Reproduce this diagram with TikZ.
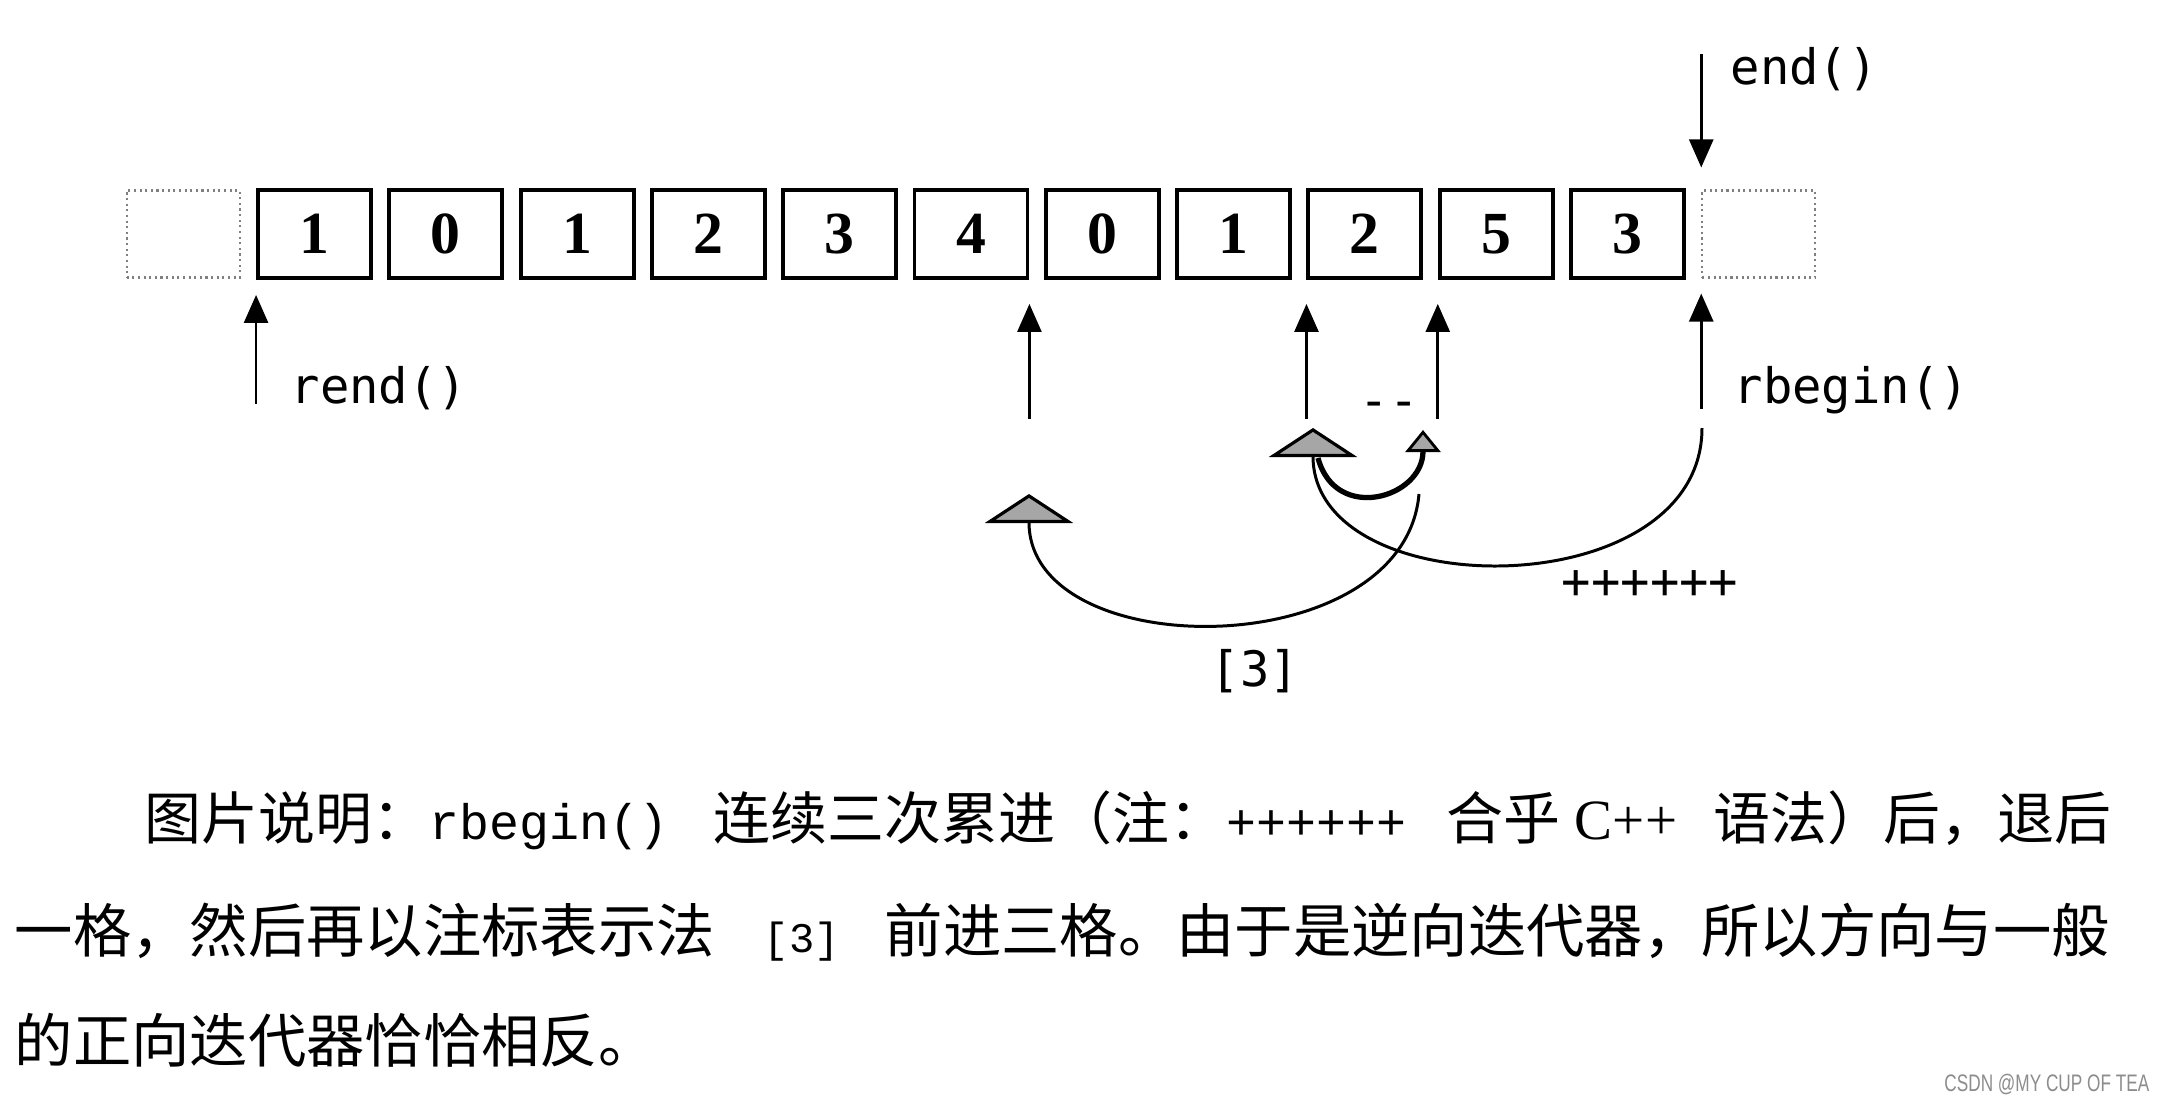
\documentclass[tikz,border=0pt]{standalone}
\usepackage{fontspec}
\setmainfont{Liberation Serif}
\newfontfamily\cjk{Noto Sans CJK SC}
\newfontfamily\lblfont[Ligatures=TeXOff]{DejaVu Sans Mono}
\newfontfamily\codefont[Ligatures=TeXOff]{Liberation Mono}
\newfontfamily\wmfont[FakeStretch=0.72]{Liberation Sans}
\usetikzlibrary{arrows.meta,calc}
\newcommand{\capcode}[2][14.2]{{\codefont\fontsize{#1}{17}\selectfont #2}}
\tikzset{
  cell/.style={draw,line width=1.1pt,minimum width=1.13cm,minimum height=0.88cm,inner sep=0pt,
    font=\fontsize{17}{20}\selectfont\bfseries},
  ghost/.style={draw=black!50,densely dotted,line width=0.6pt,minimum width=1.13cm,minimum height=0.87cm,inner sep=0pt},
  ptr/.style={-{Triangle[length=2.8mm,width=2.4mm]},line width=0.75pt},
  lbl/.style={font=\lblfont\fontsize{13.9}{16}\selectfont,inner sep=0pt},
  hop/.style={line width=0.85pt},
  bigtip/.style={-{Triangle[length=2.9mm,width=8.8mm,fill=black!35,line width=0.9pt]}},  % shaded head
  smalltip/.style={-{Triangle[length=2.2mm,width=3.5mm,fill=black!35,line width=0.8pt]}},
  captxt/.style={anchor=base west,inner sep=0pt},
}
\begin{document}
\begin{tikzpicture}
  \useasboundingbox (0,0) rectangle (21.64,-11.02);
  % the sequence, with the two empty slots at both ends
  \node[ghost] (c0) at (1.832,-2.34) {};
  \foreach \v [count=\i] in {1,0,1,2,3,4,0,1,2,5,3}
    \node[cell] (c\i) at ({1.832+1.313*\i},-2.34) {\v};
  \node[ghost] (c12) at ({1.832+1.313*12},-2.34) {};

  % end() above, the pointers below the row
  \coordinate (end-t) at ([yshift=2.2mm]c12.north west);
  \coordinate (end-b) at ([yshift=13.5mm]c12.north west);
  \draw[ptr] (end-b) -- (end-t);
  \node[lbl,anchor=west] (endL) at (17.30,-0.69) {end()};

  \coordinate (rend-t) at ([yshift=-1.5mm]c1.south west);
  \coordinate (rend-b) at ([yshift=-12.4mm]c1.south west);
  \draw[ptr] (rend-b) -- (rend-t);
  \node[lbl,anchor=west] (rendL) at (2.90,-3.88) {rend()};

  \coordinate (rb-t) at ([yshift=-1.5mm]c12.south west);
  \coordinate (rb-b) at ([yshift=-13mm]c12.south west);
  \draw[ptr] (rb-b) -- (rb-t);
  \node[lbl,anchor=west] (rbL) at (17.33,-3.90) {rbegin()};

  \foreach \n/\a in {p4/c6.south east,p8/c9.south west,p9/c10.south west}{
    \coordinate (\n-t) at ([yshift=-2.4mm]\a);
    \coordinate (\n-b) at ([yshift=-13.9mm]\a);
    \draw[ptr] (\n-b) -- (\n-t);
  }

  % moves: ++++++ (three on), -- (one back), [3] (three on)
  \coordinate (inc-s) at (17.02,-4.28);
  \coordinate (inc-e) at (13.13,-4.28);
  \coordinate (dec-s) at (13.18,-4.58);
  \coordinate (dec-e) at (14.23,-4.30);
  \coordinate (sub-s) at (14.19,-4.94);
  \coordinate (sub-e) at (10.29,-4.94);
  \draw[line width=1.5pt,smalltip] (dec-s) to[out=-75,in=-90,looseness=1.6] (dec-e);
  \draw[hop,bigtip] (inc-s) to[out=-90,in=-90,looseness=1.18] (inc-e);
  \draw[hop,bigtip] (sub-s) to[out=-95,in=-90,looseness=1.13] (sub-e);
  \node[lbl] (incL) at (16.50,-5.85) {++++++};
  \node[lbl] (decL) at (13.89,-4.10) {--};
  \node[lbl] (subL) at (12.55,-6.71) {[3]};

  % caption
  \node[captxt,font=\cjk\fontsize{16.2}{20}\selectfont] (cap1) at (1.44,-8.39)
    {图片说明：\capcode{rbegin()}\hspace{0.45cm}连续三次累进（注：\capcode{++++++}\hspace{0.4cm}合乎\hspace{0.15cm}{\rmfamily C++}\hspace{0.36cm}语法）后，退后};
  \node[captxt,font=\cjk\fontsize{16.6}{20}\selectfont] (cap2) at (0.14,-9.52)
    {一格，然后再以注标表示法\hspace{0.49cm}\capcode[12]{[3]}\hspace{0.45cm}前进三格。由于是逆向迭代器，所以方向与一般};
  \node[captxt,font=\cjk\fontsize{16.6}{20}\selectfont] (cap3) at (0.14,-10.62)
    {的正向迭代器恰恰相反。};
  \node[font=\wmfont\fontsize{6.8}{8}\selectfont,text=black!45,anchor=east,inner sep=0pt] (wm)
    at (21.50,-10.84) {CSDN @MY CUP OF TEA};
\end{tikzpicture}
\end{document}
